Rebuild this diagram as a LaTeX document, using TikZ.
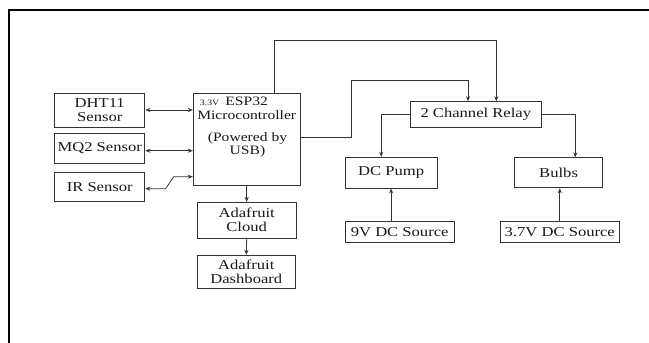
\documentclass[tikz,border=0pt]{standalone}
\usepackage{fontspec}
\setmainfont{Liberation Serif}[FakeStretch=1.22]
\usetikzlibrary{arrows.meta,calc}
\begin{document}
\begin{tikzpicture}[x=1pt,y=-1pt,
  box/.style={draw=black!80, line width=0.9pt, rectangle, inner sep=0pt, align=center,
              font=\fontsize{13.6}{14}\selectfont, text=black!90},
  lbl/.style={inner sep=0pt, align=center, font=\fontsize{12.8}{13.6}\selectfont, text=black!90},
  conn/.style={draw=black!80, line width=0.8pt, -{Stealth[length=5pt,width=4pt]}},
  bi/.style={draw=black!80, line width=0.8pt, {Stealth[length=5pt,width=4pt]}-{Stealth[length=5pt,width=4pt]}}
]
\useasboundingbox (0,0) rectangle (649,343);
\fill[white] (0,0) rectangle (649,343);
\draw[line width=2pt, black] (8.5,343) -- (8.5,10) -- (649,10);

% nodes
\node[box, minimum width=90.3pt, minimum height=34pt] (dht) at (99.75,110.3) {DHT11\\Sensor};
\node[box, minimum width=90.3pt, minimum height=30pt] (mq2) at (99.75,148.3) {MQ2 Sensor};
\node[box, minimum width=90.3pt, minimum height=28.3pt] (ir) at (99.75,186.9) {IR Sensor};
\node[box, minimum width=106.8pt, minimum height=92pt] (esp) at (246.7,139.3) {};
\node[lbl, font=\fontsize{8}{9}\selectfont] (v33) at (209.6,102.8) {3.3V};
\node[lbl] (esptitle) at (246.7,108.3) {ESP32\\Microcontroller};
\node[lbl] (esppow) at (247.5,144.8) {(Powered by\\USB)};
\node[box, minimum width=99.4pt, minimum height=35.7pt] (cloud) at (246.7,220.2) {Adafruit\\Cloud};
\node[box, minimum width=98.5pt, minimum height=33pt] (dash) at (246.3,271.8) {Adafruit\\Dashboard};
\node[box, minimum width=130.4pt, minimum height=26pt] (relay) at (475.8,114.7) {2 Channel Relay};
\node[box, minimum width=91.5pt, minimum height=30.7pt] (pump) at (391.2,172.6) {DC Pump};
\node[box, minimum width=87.8pt, minimum height=30pt] (bulbs) at (558.6,172.8) {Bulbs};
\node[box, minimum width=109pt, minimum height=20.6pt] (src9) at (399.7,232) {9V DC Source};
\node[box, minimum width=119.5pt, minimum height=20.6pt] (src37) at (559.8,232) {3.7V DC Source};

% helper coordinates
\coordinate (a1) at (274,40.7);
\coordinate (a2) at (496.3,40.7);
\coordinate (b0) at (300,137.7);
\coordinate (b1) at (351.8,80);
\coordinate (b2) at (468,80);
\coordinate (c1) at (381.2,0);
\coordinate (d1) at (575.3,0);
\coordinate (e1) at (391.1,0);
\coordinate (f1) at (0,110);
\coordinate (f2) at (0,150.7);
\coordinate (g1) at (173.8,176.7);
\coordinate (g2) at (165.6,188.7);

% connectors
\draw[bi] (dht.east |- f1) -- (esp.west |- f1);
\draw[bi] (mq2.east |- f2) -- (esp.west |- f2);
\draw[bi] (ir.east |- g2) -- (g2) -- (g1) -- (esp.west |- g1);
\draw[conn] (esp.north -| a1) -- (a1) -- (a2) -- (relay.north -| a2);
\draw[conn] (esp.east |- b0) -| (b1) -- (b2) -- (relay.north -| b2);
\draw[conn] (relay.west) -| (pump.north -| c1);
\draw[conn] (relay.east) -| (bulbs.north -| d1);
\draw[conn] (src9.north -| e1) -- (pump.south -| e1);
\draw[conn] (src37.north) -- (bulbs.south -| src37.north);
\draw[conn] (esp.south) -- (cloud.north);
\draw[conn] (cloud.south) -- (dash.north);
\end{tikzpicture}
\end{document}
